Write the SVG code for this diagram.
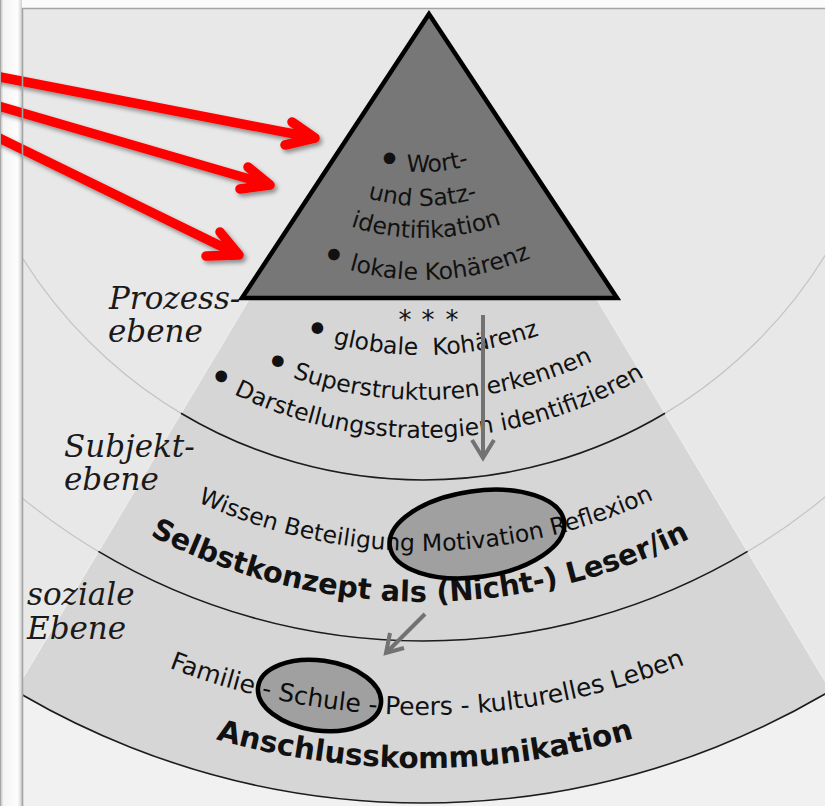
<svg xmlns="http://www.w3.org/2000/svg" width="825" height="806" viewBox="0 0 825 806">
  <style>
    .lbl { font-family: "DejaVu Serif", "Liberation Serif", serif; font-style: italic; font-size: 31px; fill: #1a1a1a; }
    .t { font-family: "DejaVu Sans", "Liberation Sans", sans-serif; font-size: 23.5px; fill: #111111; }
    .bold { font-weight: bold; }
    .dot { font-size: 40px; }
    .faint { fill: none; stroke: #c4c4c4; stroke-width: 1.2; }
    .dark { fill: none; stroke: #1c1c1c; stroke-width: 1.6; }
    .red { fill: none; stroke: #ff0000; stroke-width: 9.5; stroke-linecap: round; stroke-linejoin: round; }
    .gray { fill: none; stroke: #727272; stroke-width: 4; stroke-linejoin: miter; }
    .ring { fill: #000; fill-opacity: 0.25; stroke: #000; stroke-width: 4.5; }
  </style>
  <defs>
    <clipPath id="inner">
      <rect x="23" y="9" width="802" height="797"/>
    </clipPath>
    <linearGradient id="sideGrad" x1="0" y1="0" x2="1" y2="0">
      <stop offset="0" stop-color="#b4b4b4"/>
      <stop offset="0.15" stop-color="#f4f4f4"/>
      <stop offset="0.8" stop-color="#fdfdfd"/>
      <stop offset="1" stop-color="#d0d0d0"/>
    </linearGradient>
    <filter id="shadow" x="-10%" y="-30%" width="130%" height="180%">
      <feDropShadow dx="2.5" dy="3" stdDeviation="2" flood-color="#000" flood-opacity="0.4"/>
    </filter>
    <!-- text baselines: circles around the common centre (423,8) -->
    <path id="r164" d="M259,8 A164,164 0 0 0 587,8"/>
    <path id="r198" d="M225,8 A198,198 0 0 0 621,8"/>
    <path id="r230" d="M193,8 A230,230 0 0 0 653,8"/>
    <path id="r272" d="M151,8 A272,272 0 0 0 695,8"/>
    <path id="r347" d="M76,8 A347,347 0 0 0 770,8"/>
    <path id="r392" d="M31,8 A392,392 0 0 0 815,8"/>
    <path id="r430" d="M-7,8 A430,430 0 0 0 853,8"/>
    <path id="r543" d="M-120,8 A543,543 0 0 0 966,8"/>
    <path id="r594" d="M-171,8 A594,594 0 0 0 1017,8"/>
    <path id="r707" d="M-284,8 A707,707 0 0 0 1130,8"/>
    <path id="r760" d="M-337,8 A760,760 0 0 0 1183,8"/>
  </defs>

  <!-- page and frame -->
  <rect x="0" y="0" width="825" height="806" fill="#fbfbfb"/>
  <rect x="0" y="0" width="22" height="806" fill="url(#sideGrad)"/>
  <rect x="22" y="8" width="803" height="798" fill="#f1f1f1"/>

  <g id="background" clip-path="url(#inner)">
    <circle cx="423" cy="8" r="795" fill="#e8e8e8"/>
    <path id="wedge" d="M249.8,298 L15.3,690.5 A795,795 0 0 0 830.7,690.5 L596.2,298 Z" fill="#d6d6d6"/>
    <path d="M249.8,298 L15.3,690.5 M596.2,298 L830.7,690.5" fill="none" stroke="#ececec" stroke-width="1.3"/>
  </g>

  <g id="levels" clip-path="url(#inner)">
    <path class="faint" d="M-49,8 A472,472 0 0 0 895,8"/>
    <path class="faint" d="M-210,8 A633,633 0 0 0 1056,8"/>
    <path class="dark" d="M181,413.2 A472,472 0 0 0 665,413.2"/>
    <path class="dark" d="M98.4,551.4 A633,633 0 0 0 747.6,551.4"/>
    <path class="dark" d="M-372,8 A795,795 0 0 0 1218,8"/>
  </g>

  <!-- process level -->
  <g id="prozess">
    <text class="t" x="405 428 452" y="329" text-anchor="middle" style="font-size:26px">***</text>
    <text class="t" text-anchor="middle"><textPath href="#r347" startOffset="543"><tspan class="dot" baseline-shift="-5">•</tspan> globale&#160; Kohärenz</textPath></text>
    <text class="t" text-anchor="middle"><textPath href="#r392" startOffset="621"><tspan class="dot" baseline-shift="-5">•</tspan> Superstrukturen erkennen</textPath></text>
    <text class="t" text-anchor="middle"><textPath href="#r430" startOffset="678"><tspan class="dot" baseline-shift="-5">•</tspan> Darstellungsstrategien identifizieren</textPath></text>
  </g>

  <!-- subject level -->
  <g id="subjekt">
    <text class="t" text-anchor="middle"><textPath href="#r543" startOffset="856">Wissen Beteiligung Motivation Reflexion</textPath></text>
    <text class="t bold" text-anchor="middle" style="font-size:28.8px"><textPath href="#r594" startOffset="929.4">Selbstkonzept als (Nicht-) Leser/in</textPath></text>
    <ellipse id="motivation" class="ring" cx="477" cy="534" rx="88" ry="43" transform="rotate(-8 477 534)"/>
  </g>

  <!-- social level -->
  <g id="sozial">
    <text class="t" text-anchor="middle" style="font-size:25px"><textPath href="#r707" startOffset="1114.9">Familie - Schule - Peers - kulturelles Leben</textPath></text>
    <text class="t bold" text-anchor="middle" style="font-size:29.5px"><textPath href="#r760" startOffset="1195.8">Anschlusskommunikation</textPath></text>
    <ellipse id="schule" class="ring" cx="319.5" cy="695.5" rx="62" ry="35" transform="rotate(8 319.5 695.5)"/>
  </g>

  <!-- top of the pyramid -->
  <g id="spitze">
    <polygon points="429,14 242,298 617,298" fill="#777777" stroke="#000" stroke-width="4.5"/>
    <text class="t" text-anchor="middle"><textPath href="#r164" startOffset="257"><tspan class="dot" baseline-shift="-5">•</tspan> Wort-</textPath></text>
    <text class="t" text-anchor="middle"><textPath href="#r198" startOffset="310.5">und Satz-</textPath></text>
    <text class="t" text-anchor="middle"><textPath href="#r230" startOffset="364.5">identifikation</textPath></text>
    <text class="t" text-anchor="middle"><textPath href="#r272" startOffset="429.5"><tspan class="dot" baseline-shift="-5">•</tspan> lokale Kohärenz</textPath></text>
  </g>

  <!-- level labels -->
  <g id="labels">
    <text class="lbl" x="109" y="309">Prozess-</text>
    <text class="lbl" x="108" y="342">ebene</text>
    <text class="lbl" x="64" y="457">Subjekt-</text>
    <text class="lbl" x="64" y="490">ebene</text>
    <text class="lbl" x="27" y="605">soziale</text>
    <text class="lbl" x="27" y="639">Ebene</text>
  </g>

  <!-- connectors -->
  <g id="connectors">
    <g filter="url(#shadow)">
      <path class="red" d="M-5,76 L315,138 M292,122 L315,138 L285,145"/>
      <path class="red" d="M-5,105 L270,185 M248,167 L270,185 L240,189"/>
      <path class="red" d="M-5,136 L239,255 M220,232 L239,255 L206,256"/>
    </g>
    <path class="gray" d="M483,315 L483,457 M472,440 L483,458 L494,440"/>
    <path class="gray" d="M425,614 L387,652 M390,633 L386,653 L404,648"/>
  </g>

  <!-- frame lines -->
  <g id="frame">
    <line x1="0.5" y1="0" x2="0.5" y2="806" stroke="#a8a8a8" stroke-width="1"/>
    <line x1="22.5" y1="8" x2="22.5" y2="806" stroke="#a4a4a4" stroke-width="1.6"/>
    <line x1="22" y1="8.5" x2="825" y2="8.5" stroke="#a4a4a4" stroke-width="1.6"/>
  </g>
</svg>
